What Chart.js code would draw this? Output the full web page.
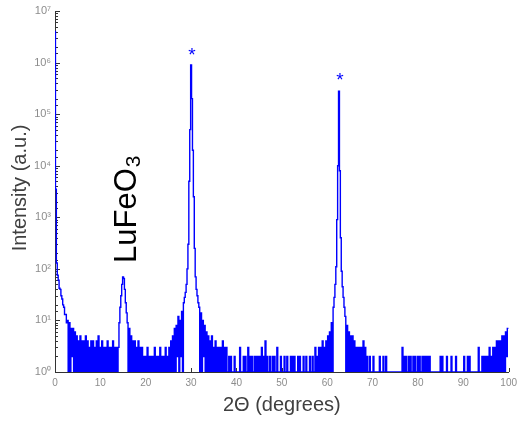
<!DOCTYPE html>
<html>
<head>
<meta charset="utf-8">
<script src="https://cdn.jsdelivr.net/npm/chart.js@4.4.1/dist/chart.umd.min.js"></script>
<style>
  html, body { margin: 0; padding: 0; background: #fff; }
  #xrd { display: block; }
</style>
</head>
<body>
<canvas id="xrd" width="522" height="421"></canvas>
<script>
// ---------- Scan data: counts, one array per 10 degrees ----------
const STEP = 0.2; // degrees between samples, scan starts at 0

const counts00 = [4000000, 3500, 130, 75, 60, 42, 40, 30, 26, 20, 18, 13, 13, 9, 10,
  1, 9, 1, 7, 2, 7, 1, 6, 1, 5, 1, 4, 1, 5, 1, 4, 1, 4, 1, 5, 1, 4, 1, 3, 1, 4, 1, 4, 1, 3, 1, 4, 1, 5, 1];
const counts10 = [3, 1, 4, 1, 3, 1, 3, 1, 4, 1, 3, 1, 3, 1, 4, 1, 3, 1, 3, 1, 3,
  9, 18, 30, 50, 70, 65, 40, 22, 14, 9,
  1, 7, 1, 5, 1, 4, 1, 4, 1, 3, 1, 4, 1, 3, 1, 3, 1, 2, 1];
const counts20 = [2, 1, 3, 1, 2, 1, 2, 1, 2, 1, 3, 1, 2, 1, 2, 1, 3, 1, 2, 1, 2, 1, 3, 1, 2, 1,
  3, 1, 4, 1, 5, 1, 7, 1, 8, 2, 12, 1, 10, 2, 15, 1,
  22, 28, 35, 50, 100, 300, 5000, 50000];
const counts30 = [900000, 200000, 20000, 2500, 250, 70, 40, 30, 22, 18,
  1, 14, 1, 10, 2, 8, 1, 6, 1, 5, 1, 4, 1, 5, 1, 3, 1, 4, 1, 3, 1, 3, 1, 3, 1, 4, 1, 3, 1, 3,
  1, 1, 2, 1, 2, 1, 1, 1, 2, 1];
const counts40 = [1, 1, 1, 1, 3, 1, 1, 1, 2, 1, 2, 1, 1, 3, 1, 2, 1, 2, 1, 1, 2, 1, 2, 1, 2,
  1, 2, 1, 3, 1, 2, 1, 4, 1, 2, 1, 1, 2, 1, 1, 2, 1, 2, 1, 1, 3, 1, 1, 1, 2];
const counts50 = [1, 1, 1, 2, 1, 1, 2, 1, 1, 1, 2, 1, 2, 1, 2, 1, 1, 1, 2, 1, 2, 1, 1, 1, 2,
  1, 1, 2, 1, 1, 1, 2, 1, 1, 2, 1, 1, 3, 1, 2, 1, 3, 1, 3, 1, 4, 1, 3, 1, 4];
const counts60 = [1, 5, 1, 6, 1, 9, 1, 18, 28, 50, 110, 900, 10000, 280000, 8000, 400, 90, 45, 28, 18, 12,
  1, 8, 1, 6, 1, 5, 1, 5, 1, 4, 1, 3, 1, 3, 1, 3, 1, 3, 1, 4, 1, 3, 1, 2, 1, 1, 2, 1, 1];
const counts70 = [1, 2, 1, 1, 1, 1, 1, 1, 2, 1, 1, 1, 2, 1, 1, 2, 1, 1, 1, 1, 1, 1, 1, 1, 1,
  1, 1, 1, 1, 1, 1, 1, 1, 3, 1, 2, 1, 2, 1, 1, 2, 1, 2, 1, 1, 2, 1, 2, 1, 1];
const counts80 = [2, 1, 2, 1, 1, 2, 1, 2, 1, 2, 1, 2, 1, 2, 1, 1, 1, 1, 1, 1, 1, 1, 1, 1, 1,
  2, 1, 2, 1, 1, 1, 1, 2, 1, 1, 1, 1, 2, 1, 1, 1, 1, 2, 1, 1, 1, 1, 1, 1, 1];
const counts90 = [1, 2, 1, 1, 1, 2, 1, 2, 1, 1, 1, 1, 1, 1, 1, 1, 1, 3, 1, 1, 1, 2, 1, 2, 1,
  2, 1, 2, 1, 3, 1, 2, 1, 3, 1, 3, 1, 4, 1, 4, 1, 4, 1, 5, 1, 5, 1, 6, 2, 7, 7];

// ---------- Axes ----------
const xTicks = [0, 10, 20, 30, 40, 50, 60, 70, 80, 90, 100];
const yDecades = [1, 10, 100, 1000, 10000, 100000, 1000000, 10000000];
const yTickLabels = ['10⁰', '10¹', '10²', '10³', '10⁴', '10⁵', '10⁶', '10⁷'];
const xTitle = '2Θ (degrees)';
const yTitle = 'Intensity (a.u.)';

// ---------- Annotations ----------
const starTheta = [30.2, 62.8];
const starCounts = [1700000, 560000];
const phaseName = 'LuFeO';
const phaseSub = '3';

const counts = [].concat(counts00, counts10, counts20, counts30, counts40,
  counts50, counts60, counts70, counts80, counts90);
const twoTheta = counts.map((_, i) => Math.round(i * STEP * 10) / 10);
const scan = twoTheta.map((t, i) => ({ x: t, y: counts[i] }));

const FONT = "'Liberation Sans', Arial, Helvetica, sans-serif";
const BLUE = 'rgb(0,0,255)';

// ---------- Inner tick marks, titles and labels ----------
const decorations = {
  id: 'decorations',
  beforeDatasetsDraw(chart) {
    const { ctx, chartArea: area, scales: { x, y } } = chart;
    ctx.save();
    ctx.strokeStyle = '#333';
    ctx.lineWidth = 1;
    ctx.beginPath();
    y.ticks.forEach((t) => {
      const py = Math.round(y.getPixelForValue(t.value)) + 0.5;
      const len = yDecades.includes(t.value) ? 5 : 3;
      ctx.moveTo(area.left, py);
      ctx.lineTo(area.left + len, py);
    });
    x.ticks.forEach((t) => {
      const px = Math.round(x.getPixelForValue(t.value)) + 0.5;
      ctx.moveTo(px, area.bottom);
      ctx.lineTo(px, area.bottom - 4);
    });
    ctx.stroke();
    ctx.restore();
  },
  afterDatasetsDraw(chart) {
    const { ctx, chartArea: area, scales: { x, y } } = chart;
    ctx.save();

    // peak stars
    ctx.fillStyle = BLUE;
    ctx.font = '19px ' + FONT;
    ctx.textAlign = 'center';
    ctx.textBaseline = 'alphabetic';
    starTheta.forEach((t, i) => {
      ctx.fillText('*', x.getPixelForValue(t), y.getPixelForValue(starCounts[i]) + 10);
    });

    // phase label, rotated
    ctx.save();
    ctx.translate(x.getPixelForValue(17.9), y.getPixelForValue(130));
    ctx.rotate(-Math.PI / 2);
    ctx.fillStyle = '#000';
    ctx.textAlign = 'left';
    ctx.font = '31px ' + FONT;
    ctx.fillText(phaseName, 0, 0);
    const w = ctx.measureText(phaseName).width;
    ctx.font = '21px ' + FONT;
    ctx.fillText(phaseSub, w + 1, 4);
    ctx.restore();

    // axis titles
    ctx.fillStyle = '#404040';
    ctx.font = '20px ' + FONT;
    ctx.textAlign = 'center';
    ctx.textBaseline = 'middle';
    ctx.fillText(xTitle, (area.left + area.right) / 2, 405);
    ctx.save();
    ctx.translate(20, 188);
    ctx.rotate(-Math.PI / 2);
    ctx.fillText(yTitle, 0, 0);
    ctx.restore();

    ctx.restore();
  },
};

new Chart(document.getElementById('xrd'), {
  type: 'line',
  data: {
    datasets: [
      {
        data: scan,
        borderColor: BLUE,
        borderWidth: 1.4,
        pointRadius: 0,
        stepped: 'middle',
        fill: false,
      },
    ],
  },
  options: {
    responsive: false,
    animation: false,
    events: [],
    layout: { padding: { top: 11, right: 9, left: 0, bottom: 0 } },
    plugins: { legend: { display: false }, tooltip: { enabled: false } },
    scales: {
      x: {
        type: 'linear',
        min: 0,
        max: 100,
        afterBuildTicks: (s) => { s.ticks = xTicks.map((v) => ({ value: v })); },
        ticks: { color: '#8c8c8c', font: { family: FONT, size: 10 }, padding: 5, maxRotation: 0 },
        grid: { display: false, drawTicks: false },
        border: { color: '#333', width: 1 },
        afterFit: (s) => { s.height = 49; },
      },
      y: {
        type: 'logarithmic',
        min: 1,
        max: 10000000,
        ticks: {
          autoSkip: false,
          color: '#8c8c8c',
          font: { family: FONT, size: 11 },
          padding: 4,
          callback: (v) => {
            const i = yDecades.indexOf(v);
            return i >= 0 ? yTickLabels[i] : '';
          },
        },
        grid: { display: false, drawTicks: false },
        border: { color: '#333', width: 1 },
        afterFit: (s) => { s.width = 55; },
      },
    },
  },
  plugins: [decorations],
});
</script>
</body>
</html>
